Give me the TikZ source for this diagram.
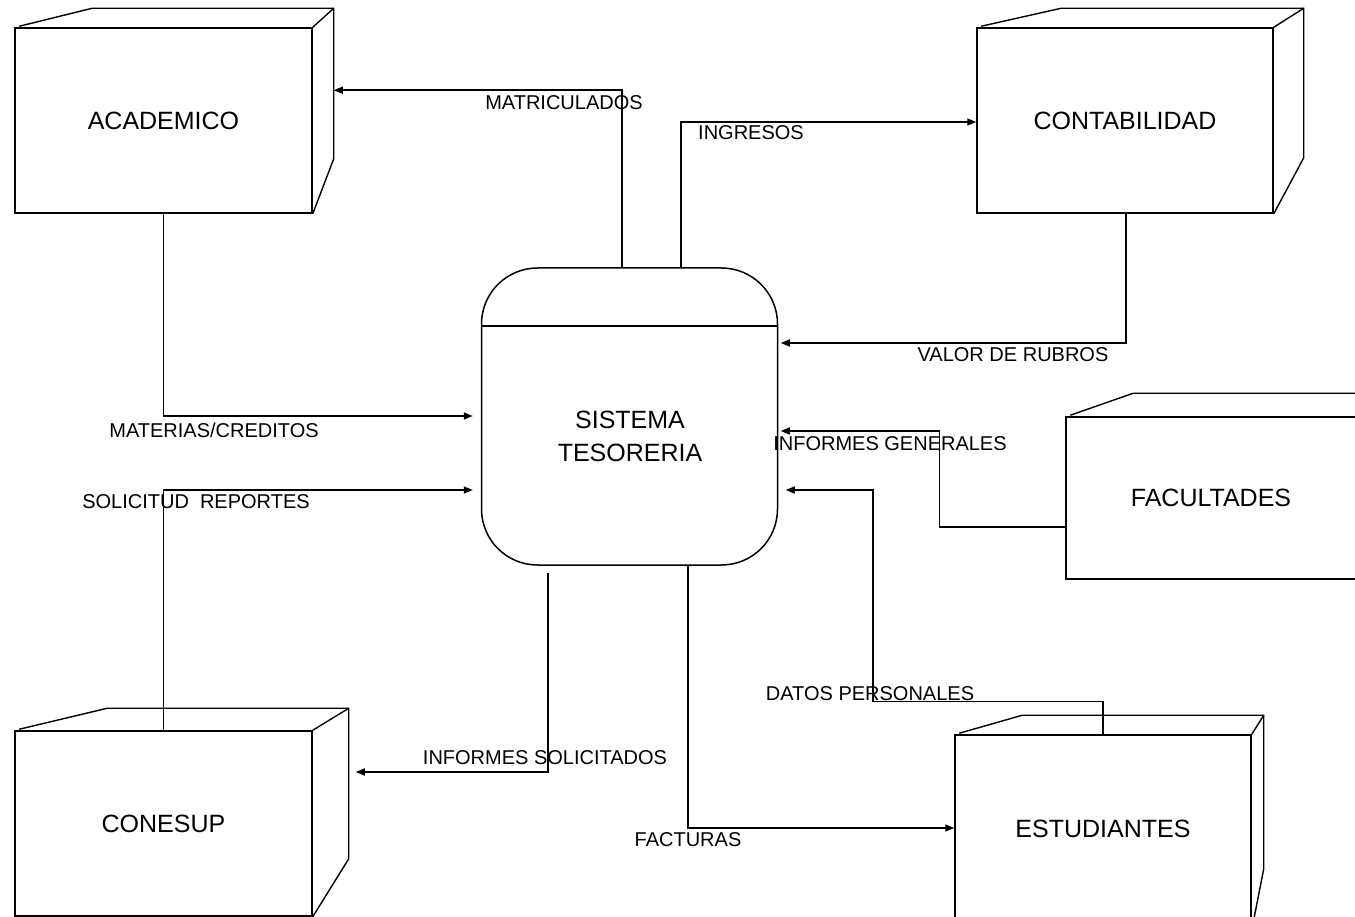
\documentclass[tikz,border=0pt]{standalone}
\usepackage{fontspec}
\setmainfont{Liberation Sans}
\usetikzlibrary{arrows.meta,calc}

\tikzset{
  line/.style={line width=1.5pt, line join=miter},
  edge/.style={line width=1.4pt},
  flow/.style={line width=1.5pt, -{Triangle[length=9pt,width=7pt]}},
  entity/.style={draw, line width=1.5pt, rectangle, inner sep=0pt,
    font=\fontsize{25}{30}\selectfont},
  process/.style={draw, line width=1.5pt, rectangle, rounded corners=56pt,
    minimum width=296pt, minimum height=297pt, inner sep=0pt},
  proctext/.style={inner sep=0pt, align=center, font=\fontsize{25}{33}\selectfont},
  flowlabel/.style={inner sep=0pt, font=\fontsize{20}{24}\selectfont}
}

\begin{document}
\begin{tikzpicture}[x=1pt,y=-1pt]
\useasboundingbox (0,0) rectangle (1355,917);
\clip (0,0) rectangle (1355,917);
\fill[white] (0,0) rectangle (1355,917);

% external entities (front faces)
\node[entity, minimum width=297pt, minimum height=185pt] (acad) at (163.5,120.5) {ACADEMICO};
\node[entity, minimum width=296pt, minimum height=185pt] (conta) at (1125,120.5) {CONTABILIDAD};
\node[entity, minimum width=290pt, minimum height=162pt] (facu) at (1211,498) {FACULTADES};
\node[entity, minimum width=297pt, minimum height=185pt] (conesup) at (163.5,823.5) {CONESUP};
\node[entity, minimum width=296pt, minimum height=194pt] (estud) at (1103,832) {\raisebox{6pt}{ESTUDIANTES}};

% depth edges of the entity boxes
\draw[edge] ($(acad.north west)+(5,-1)$) -- ($(acad.north west)+(78,-19)$)
  -- ($(acad.north east)+(21,-19)$) -- ($(acad.south east)+(21,-55)$) -- (acad.south east);
\draw[edge] (acad.north east) -- ($(acad.north east)+(21,-19)$);

\draw[edge] ($(conta.north west)+(5,-1)$) -- ($(conta.north west)+(85,-19)$)
  -- ($(conta.north east)+(30,-19)$) -- ($(conta.south east)+(30,-56)$) -- (conta.south east);
\draw[edge] (conta.north east) -- ($(conta.north east)+(30,-19)$);

\draw[edge] ($(facu.north west)+(5,-1)$) -- ($(facu.north west)+(68,-23)$)
  -- ($(facu.north east)+(10,-23)$);

\draw[edge] ($(conesup.north west)+(5,-1)$) -- ($(conesup.north west)+(93,-22)$)
  -- ($(conesup.north east)+(36,-22)$) -- ($(conesup.south east)+(36,-58)$) -- (conesup.south east);
\draw[edge] (conesup.north east) -- ($(conesup.north east)+(36,-22)$);

\draw[edge] ($(estud.north west)+(5,-1)$) -- ($(estud.north west)+(68,-19)$)
  -- ($(estud.north east)+(12,-19)$) -- ($(estud.south east)+(12,-61)$) -- (estud.south east);
\draw[edge] (estud.north east) -- ($(estud.north east)+(12,-19)$);

% central process
\node[process] (proc) at (629.5,416.5) {};
\draw[line] ($(proc.north west)+(0,59)$) -- ($(proc.north east)+(0,59)$);
\node[proctext] (proclabel) at (630,436) {SISTEMA\\TESORERIA};

% data flows
\draw[flow] ($(proc.north)+(-7.5,0)$) |- ($(acad.north east)+(21,63)$);
\draw[flow] ($(proc.north)+(51.5,0)$) |- ($(conta.west)+(0,1.5)$);
\draw[flow] ($(conta.south)+(1,0)$) |- ($(proc.east)+(2.5,-73.5)$);
\draw[flow] (acad.south) |- ($(proc.west)+(-8,-0.5)$);
\draw[flow] (conesup.north) |- ($(proc.west)+(-8,73.5)$);
\draw[flow] ($(facu.west)+(0,29)$) -- ++(-126,0) |- ($(proc.east)+(2.5,14.5)$);
\draw[flow] (estud.north) -- ++(0,-33) -- ++(-230,0) |- ($(proc.east)+(7.5,73.5)$);
\draw[flow] ($(proc.south)+(-81.5,7)$) |- ($(conesup.east)+(43,-51.5)$);
\draw[flow] ($(proc.south)+(58.5,0)$) |- ($(estud.west)+(0,-4)$);

% flow labels
\node[flowlabel] (lmat) at (564,103) {MATRICULADOS};
\node[flowlabel] (ling) at (751,133) {INGRESOS};
\node[flowlabel] (lval) at (1013,355) {VALOR DE RUBROS};
\node[flowlabel] (lmc) at (214,430) {MATERIAS/CREDITOS};
\node[flowlabel] (lsol) at (196,502) {SOLICITUD\ \ REPORTES};
\node[flowlabel] (lgen) at (890,444) {INFORMES GENERALES};
\node[flowlabel] (ldat) at (870,694) {DATOS PERSONALES};
\node[flowlabel] (linf) at (545,758) {INFORMES SOLICITADOS};
\node[flowlabel] (lfac) at (688,840) {FACTURAS};
\end{tikzpicture}
\end{document}
